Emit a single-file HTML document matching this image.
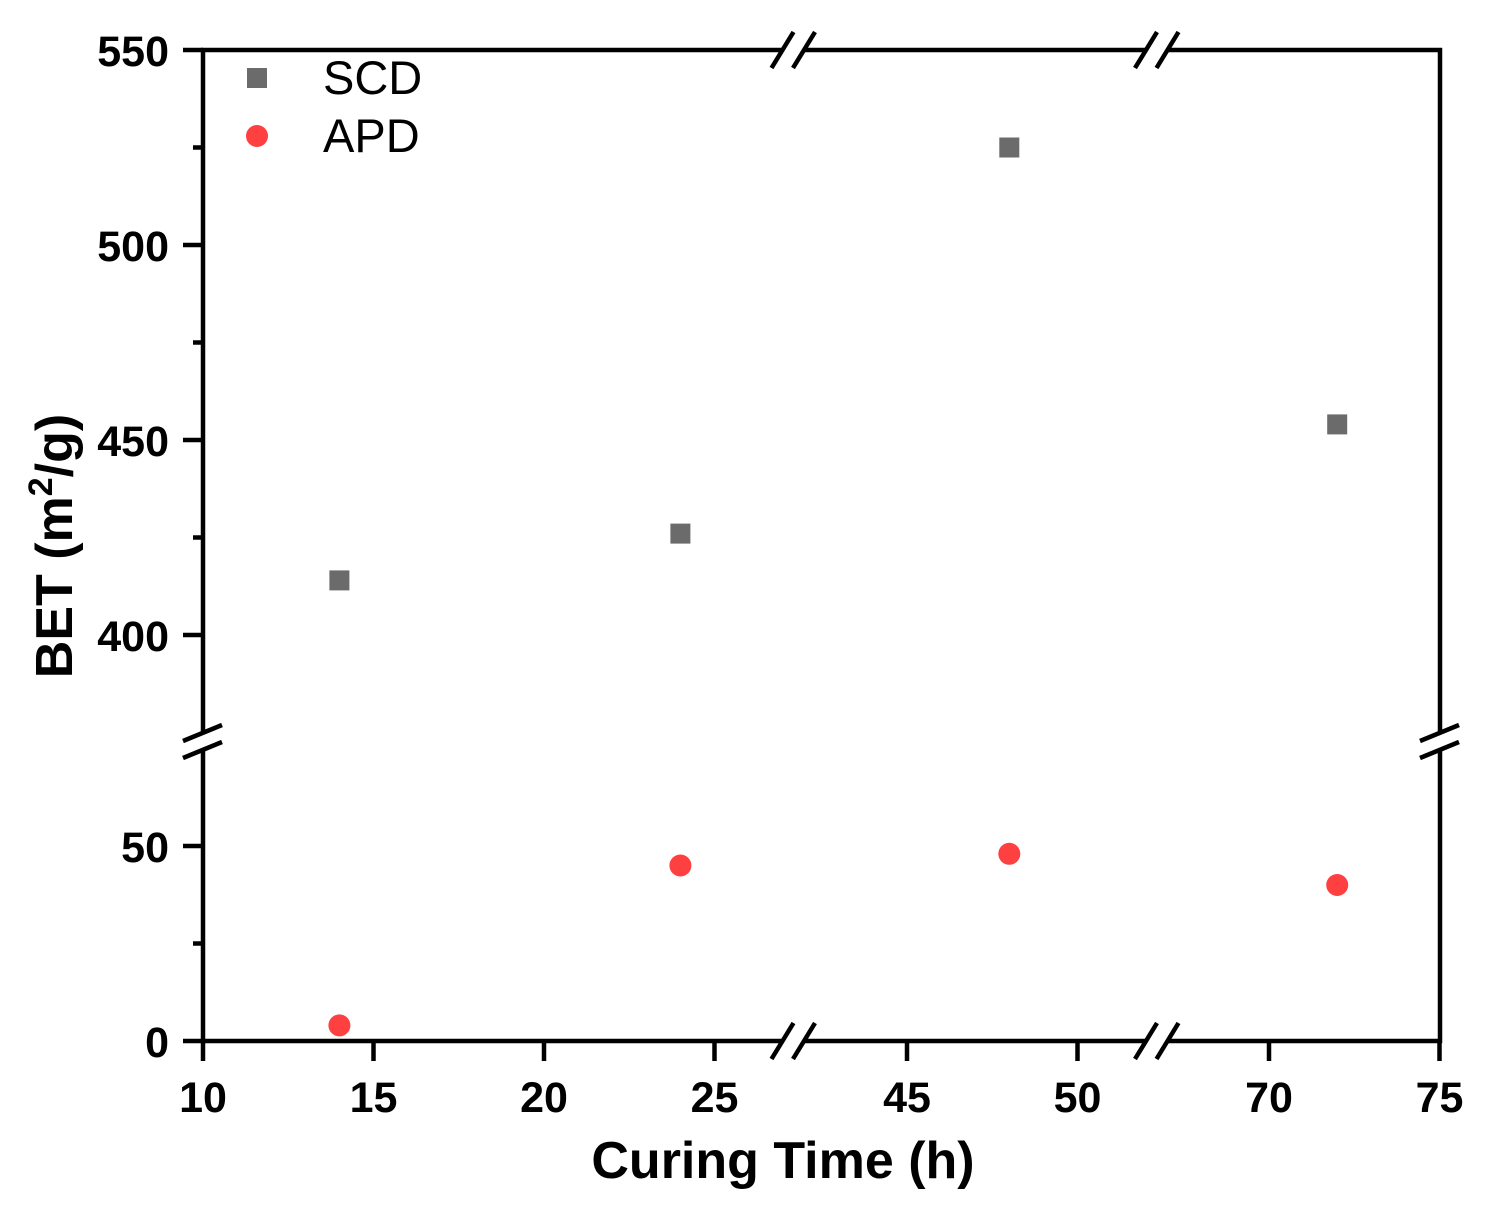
<!DOCTYPE html>
<html><head><meta charset="utf-8"><style>
html,body{margin:0;padding:0;background:#fff;}
svg{display:block;font-family:"Liberation Sans",Arial,sans-serif;}
</style></head><body>
<svg id="chart" width="1502" height="1209" viewBox="0 0 1502 1209">
<g id="axes"></g>
<g id="marks"></g>
<g id="legend">
  <rect x="247" y="68" width="20" height="20" fill="#6b6b6b"/>
  <text x="323" y="94" font-size="47">SCD</text>
  <circle cx="257" cy="136" r="11" fill="#ff4040"/>
  <text x="323" y="152" font-size="47">APD</text>
</g>
<text x="783" y="1178" font-size="52" font-weight="bold" text-anchor="middle">Curing Time (h)</text>
<text transform="translate(72,546) rotate(-90)" font-size="52" font-weight="bold" text-anchor="middle">BET (m<tspan font-size="34" dy="-20">2</tspan><tspan dy="20">/g)</tspan></text>
</svg>
<script>
const categories = [14, 24, 48, 72];
const scdValues = [414, 426, 525, 454];
const apdValues = [4, 45, 48, 40];
const xTickLabels = [10, 15, 20, 25, 45, 50, 70, 75];
const yTickLabelsLow = [0, 50];
const yTickLabelsHigh = [400, 450, 500, 550];
const yMinorLow = [25];
const yMinorHigh = [425, 475, 525];

const NS = "http://www.w3.org/2000/svg";
const PX = 34.1, PY = 3.9;
function xScale(v){
  if (v < 35) return 203 + (v - 10) * PX;
  if (v < 60) return 907 + (v - 45) * PX;
  return 1269 + (v - 70) * PX;
}
function yScale(v){
  if (v < 200) return 1041 - v * PY;
  return 635 - (v - 400) * PY;
}
function mk(tag, attrs, parent){
  const e = document.createElementNS(NS, tag);
  for (const k in attrs) e.setAttribute(k, attrs[k]);
  parent.appendChild(e); return e;
}
const axes = document.getElementById('axes');
const marks = document.getElementById('marks');
const L = {stroke:'#000','stroke-width':4.5,fill:'none'};
function line(x1,y1,x2,y2,name){
  const e = mk('line', Object.assign({x1,y1,x2,y2}, L), axes);
  
  
}
[1041, 50].forEach(function(y){
  const nm = y === 1041 ? 'x-axis-line' : 'top-border';
  line(201,y,782,y,nm); line(804,y,1146,y,nm); line(1167,y,1442,y,nm);
  [782.5, 804, 1146, 1167.5].forEach(function(cx){
    line(cx-11,y+18,cx+11,y-18,'x-break-mark');
  });
});
[203, 1440].forEach(function(x){
  const nm = x === 203 ? 'y-axis-line' : 'right-border';
  line(x,48,x,734,nm); line(x,750,x,1043,nm);
  [733, 750].forEach(function(cy){
    line(x-20,cy+8,x+19,cy-8,'y-break-mark');
  });
});
xTickLabels.forEach(function(v){
  const x = xScale(v);
  line(x,1041,x,1061,'x-tick');
  const t = mk('text',{x:x,y:1112,'font-size':43,'font-weight':'bold','text-anchor':'middle'},axes);
  t.textContent = v;
  
  
});
yTickLabelsLow.concat(yTickLabelsHigh).forEach(function(v){
  const y = yScale(v);
  line(183,y,203,y,'y-tick');
  const t = mk('text',{x:169,y:y+16,'font-size':43,'font-weight':'bold','text-anchor':'end'},axes);
  t.textContent = v;
  
  
});
yMinorLow.concat(yMinorHigh).forEach(function(v){
  const y = yScale(v);
  line(193,y,203,y,'y-minor-tick');
});
categories.forEach(function(c,i){
  const x = xScale(c);
  const s = mk('rect',{x:x-10,y:yScale(scdValues[i])-10,width:20,height:20,fill:'#6b6b6b'},marks);
  
  
  const a = mk('circle',{cx:x,cy:yScale(apdValues[i]),r:11,fill:'#ff4040'},marks);
  
  
});
</script>
</body></html>
